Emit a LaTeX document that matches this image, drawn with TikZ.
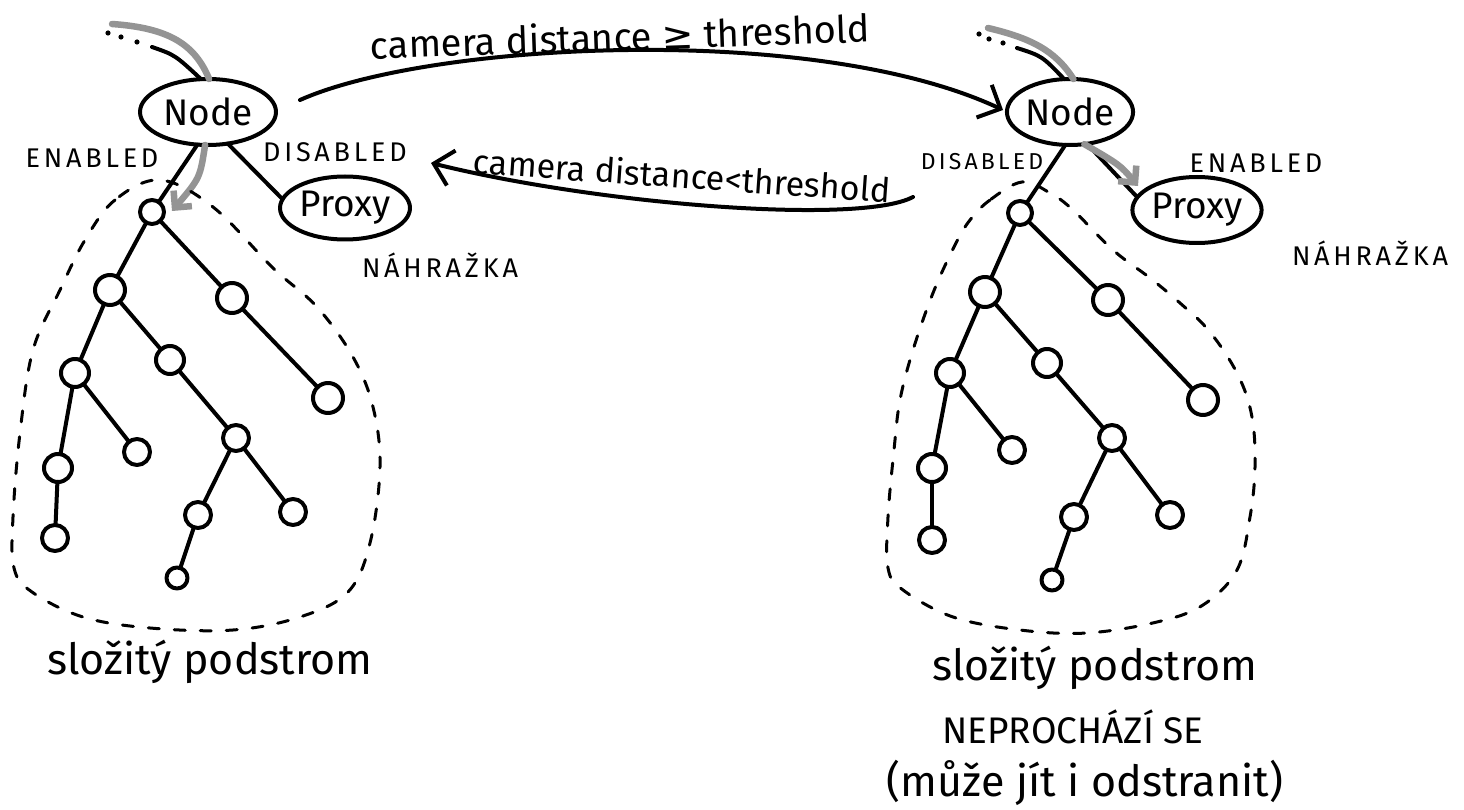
\documentclass[tikz,border=0pt]{standalone}
\usepackage{fontspec}
\setmainfont{Fira Sans}
\newfontfamily\spacedfont[LetterSpace=14]{Fira Sans}
\newfontfamily\symfont{DejaVu Sans}
\usetikzlibrary{arrows.meta,shapes.geometric}
\begin{document}
\begin{tikzpicture}[x=1pt,y=-1pt,
  every node/.style={inner sep=0pt, outer sep=0pt},
  ink/.style={line width=4pt, line cap=round, line join=round},
  hint/.style={line width=6.5pt, draw=black!42, line cap=round},
  hinttip/.style={-{Straight Barb[length=12pt,width=24pt]}},
  inktip/.style={-{Straight Barb[length=18pt,width=36pt]}},
  bignode/.style={draw, ellipse, ink, font=\fontsize{37}{42}\selectfont, minimum width=136pt, minimum height=66pt},
  leaf/.style={draw, circle, ink, minimum size=26pt},
  outline/.style={line width=3pt, line cap=round, dash pattern=on 11pt off 15pt},
  lbl/.style={font=\spacedfont\fontsize{27}{31}\selectfont},
  lblsmall/.style={font=\spacedfont\fontsize{23}{27}\selectfont},
  captext/.style={font=\fontsize{43}{48}\selectfont},
  captextb/.style={font=\fontsize{37}{42}\selectfont},
  arrlbl/.style={font=\fontsize{38}{44}\selectfont}
]
\fill[white] (0,0) rectangle (1464,810);
\useasboundingbox (0,0) rectangle (1464,810);

% ---------- left side ----------
\node[bignode] (nL) at (208,112) {Node};
\node[bignode, minimum width=130pt, minimum height=63pt] (pL) at (345,208) {Proxy};
\foreach \p in {(108,33),(121,37),(137,42)} \fill \p circle (2.6pt);
\coordinate (inL) at (152,47);
\draw[ink] (inL) .. controls (175,55) .. (nL.102);
\coordinate (gL) at (112,24);
\draw[hint] (gL) .. controls (170,28) and (195,45) .. (nL.88);
\node[lbl] (enL) at (92,158) {ENABLED};
\node[lbl] (diL) at (335,152) {DISABLED};
\node[lbl] (naL) at (440,265) {NÁHRAŽKA};
\draw[ink] (nL.302) .. controls (255,172) .. (pL.172);

% left tree
\node[leaf, minimum size=24pt] (L1) at (152,212) {};
\node[leaf, minimum size=30pt] (L2) at (110,290) {};
\node[leaf, minimum size=30pt] (L3) at (232,298) {};
\node[leaf, minimum size=28pt] (L4) at (75,373) {};
\node[leaf, minimum size=28pt] (L5) at (170,360) {};
\node[leaf, minimum size=30pt] (L6) at (328,398) {};
\node[leaf, minimum size=28pt] (L7) at (58,468) {};
\node[leaf, minimum size=26pt] (L8) at (137,452) {};
\node[leaf, minimum size=26pt] (L9) at (236,438) {};
\node[leaf, minimum size=26pt] (L10) at (55,538) {};
\node[leaf, minimum size=26pt] (L11) at (198,515) {};
\node[leaf, minimum size=26pt] (L12) at (293,512) {};
\node[leaf, minimum size=21pt] (L13) at (177,578) {};
\draw[ink] (nL.252) -- (L1);
\draw[hint, hinttip] (nL.265) .. controls (200,178) .. (172,211);

\draw[outline] plot[smooth cycle, tension=0.6] coordinates {
 (160,180) (115,200) (85,240) (60,290) (33,350) (20,433) (13,517) (14,568)
 (32,592) (83,617) (150,628) (233,630) (300,617) (348,592) (370,543) (380,467)
 (373,407) (353,357) (317,307) (273,268) (213,207)};
\node[captext] (sL) at (210,662) {složitý podstrom};

% ---------- right side ----------
\node[bignode, minimum width=126pt] (nR) at (1070,112) {Node};
\node[bignode, minimum width=122pt] (pR) at (1197,210) {Proxy};
\foreach \p in {(979,34),(989,39),(1003,43)} \fill \p circle (2.6pt);
\coordinate (inR) at (1017,48);
\draw[ink] (inR) .. controls (1042,56) .. (nR.100);
\coordinate (gR) at (988,28);
\draw[hint] (gR) .. controls (1030,38) and (1055,50) .. (nR.84);
\node[lblsmall] (diR) at (982,162) {DISABLED};
\node[lbl] (enR) at (1256,163) {ENABLED};
\node[lbl] (naR) at (1370,253) {NÁHRAŽKA};
\draw[ink] (nR.298) .. controls (1112,170) .. (pR.168);
\draw[hint, hinttip] (nR.294) .. controls (1120,165) .. (1138,186);

% right tree
\node[leaf, minimum size=24pt] (R1) at (1020,213) {};
\node[leaf, minimum size=30pt] (R2) at (985,292) {};
\node[leaf, minimum size=30pt] (R3) at (1108,300) {};
\node[leaf, minimum size=28pt] (R4) at (950,373) {};
\node[leaf, minimum size=28pt] (R5) at (1047,363) {};
\node[leaf, minimum size=30pt] (R6) at (1203,400) {};
\node[leaf, minimum size=28pt] (R7) at (932,468) {};
\node[leaf, minimum size=26pt] (R8) at (1012,450) {};
\node[leaf, minimum size=26pt] (R9) at (1112,438) {};
\node[leaf, minimum size=26pt] (R10) at (932,540) {};
\node[leaf, minimum size=26pt] (R11) at (1074,517) {};
\node[leaf, minimum size=26pt] (R12) at (1170,515) {};
\node[leaf, minimum size=21pt] (R13) at (1052,580) {};
\draw[ink] (nR.262) -- (R1);

\draw[outline] plot[smooth cycle, tension=0.6] coordinates {
 (1022,182) (990,200) (970,220) (955,245) (933,293) (913,350) (900,400) (894,450)
 (888,517) (888,568) (903,590) (953,617) (1020,630) (1087,633) (1157,622)
 (1203,605) (1237,570) (1250,517) (1255,467) (1252,417) (1238,375) (1210,332)
 (1180,303) (1150,278) (1113,250) (1073,210) (1050,193)};
\node[captext] (sR) at (1095,668) {složitý podstrom};
\node[captextb] (npR) at (1073,727) {NEPROCHÁZÍ SE};
\node[captext] (mzR) at (1085,783) {(může jít i odstranit)};

% tree edges
\foreach \s in {L,R}{
  \foreach \a/\b in {1/2,1/3,2/4,2/5,3/6,4/7,4/8,5/9,7/10,9/11,9/12,11/13}
    \draw[ink] (\s\a) -- (\s\b);
}

% ---------- transitions ----------
\coordinate (t1s) at (300,100);
\coordinate (t1e) at (1003,110);
\draw[ink, inktip] (t1s) .. controls (430,42) and (815,22) .. (t1e);
\node[arrlbl, rotate=2] (t1l) at (620,36) {camera distance {\symfont ≥} threshold};
\coordinate (t2s) at (913,197);
\coordinate (t2e) at (431,163);
\draw[ink, inktip] (t2s) .. controls (860,225) and (600,205) .. (t2e);
\node[arrlbl, font=\fontsize{34}{40}\selectfont, rotate=-4] (t2l) at (682,175) {camera distance<threshold};
\end{tikzpicture}
\end{document}
